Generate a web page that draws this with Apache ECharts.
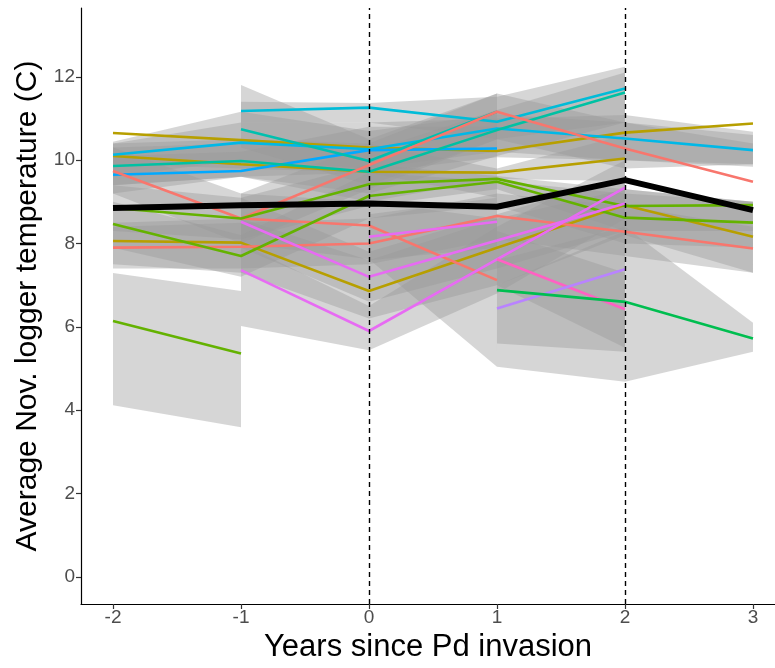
<!DOCTYPE html>
<html><head><meta charset="utf-8">
<script src="https://cdn.jsdelivr.net/npm/echarts@6/dist/echarts.min.js"></script>
<style>html,body{margin:0;padding:0;background:#fff}#c{width:775px;height:668px}</style>
</head><body><div id="c"></div>
<script>
// ---- data ----
const years = [-2, -1, 0, 1, 2, 3];
const xTicks = [-2, -1, 0, 1, 2, 3];
const yTicks = [0, 2, 4, 6, 8, 10, 12];
const dashedYears = [0, 2];

const olive1   = [10.65, 10.48, 10.3, 10.22, 10.66, 10.88];
const olive1Lo = [9.9, 9.8, 9.7, 10.07, 10.0, 9.9];
const olive1Hi = [10.4, 10.9, 10.9, 11.0, 11.08, 10.68];

const olive2   = [10.1, 9.9, 9.72, 9.7, 10.04, null];
const olive2Lo = [9.4, 9.6, 9.0, 9.55, 9.5, null];
const olive2Hi = [10.4, 10.5, 10.4, 9.8, 10.6, null];

const olive3   = [8.06, 8.02, 6.86, 7.9, 8.92, 8.16];
const olive3Lo = [7.5, 7.3, 6.2, 7.0, 8.2, 7.3];
const olive3Hi = [8.5, 8.6, 7.6, 8.6, 9.3, 9.0];

const cyan1   = [null, 11.18, 11.26, 10.92, 11.72, null];
const cyan1Lo = [null, 10.9, 10.9, 10.5, 10.9, null];
const cyan1Hi = [null, 11.4, 11.37, 11.52, 12.24, null];

const lightBlue   = [10.13, 10.42, 10.26, 10.76, 10.52, 10.24];
const lightBlueLo = [9.6, 10.0, 9.8, 10.2, 10.0, 9.84];
const lightBlueHi = [10.44, 11.16, 10.7, 11.1, 10.9, 10.6];

const blue   = [9.65, 9.74, 10.24, 10.28, null, null];
const blueLo = [9.2, 9.6, 9.7, 9.1, null, null];
const blueHi = [10.1, 10.2, 10.8, 10.8, null, null];

const tealA   = [null, 10.74, 9.98, 11.16, null, null];
const tealALo = [null, 10.3, 9.4, 10.5, null, null];
const tealAHi = [null, 11.8, 10.5, 11.6, null, null];

const tealB   = [9.86, 9.98, 9.72, 10.72, 11.62, null];
const tealBLo = [9.4, 9.6, 9.2, 10.1, 10.9, null];
const tealBHi = [10.3, 10.4, 10.2, 11.2, 12.1, null];

const salmon1   = [9.74, 8.6, 9.88, 11.16, 10.28, 9.48];
const salmon1Lo = [9.2, 8.0, 9.3, 10.5, 9.8, 9.9];
const salmon1Hi = [10.3, 9.2, 10.4, 11.6, 10.9, 10.4];

const salmon2   = [null, 8.6, 8.43, 7.12, null, null];
const salmon2Lo = [null, 8.0, 7.62, 5.04, null, null];
const salmon2Hi = [null, 9.2, 9.0, 8.6, null, null];

const salmon3   = [7.9, 7.92, 8.0, 8.66, 8.28, 7.88];
const salmon3Lo = [7.4, 7.4, 7.5, 8.1, 7.7, 7.3];
const salmon3Hi = [8.4, 8.5, 8.6, 9.2, 8.9, 8.4];

const green1   = [8.85, 8.6, 9.42, 9.55, 8.9, 8.92];
const green1Lo = [8.3, 8.1, 8.9, 9.3, 8.3, 8.3];
const green1Hi = [9.4, 9.1, 9.9, 9.62, 9.3, 9.0];

const green2   = [8.47, 7.7, 9.14, 9.48, 8.62, 8.5];
const green2Lo = [7.9, 7.2, 8.6, 8.9, 8.0, 7.9];
const green2Hi = [9.0, 8.2, 9.7, 9.5, 9.2, 9.0];

const greenLow   = [6.14, 5.36, null, null, null, null];
const greenLowLo = [4.12, 3.59, null, null, null, null];
const greenLowHi = [7.29, 6.86, null, null, null, null];

const magenta1   = [null, 8.52, 7.2, 8.07, 8.96, null];
const magenta1Lo = [null, 7.9, 6.6, 7.4, 8.3, null];
const magenta1Hi = [null, 9.1, 7.8, 8.7, 9.6, null];

const magenta2   = [null, null, 8.16, 8.52, null, null];
const magenta2Lo = [null, null, 7.6, 7.9, null, null];
const magenta2Hi = [null, null, 8.7, 9.1, null, null];

const magenta3   = [null, 7.36, 5.9, 7.62, 9.34, null];
const magenta3Lo = [null, 6.02, 5.44, 6.8, 8.6, null];
const magenta3Hi = [null, 8.0, 6.5, 8.4, 10.0, null];

const pink   = [null, null, null, 7.62, 6.42, null];
const pinkLo = [null, null, null, 7.0, 5.5, null];
const pinkHi = [null, null, null, 8.3, 7.3, null];

const purple   = [null, null, null, 6.44, 7.38, null];
const purpleLo = [null, null, null, 5.6, 5.4, null];
const purpleHi = [null, null, null, 7.0, 8.3, null];

const green3   = [null, null, null, 6.88, 6.6, 5.72];
const green3Lo = [null, null, null, 5.04, 4.68, 5.4];
const green3Hi = [null, null, null, 7.6, 8.4, 6.1];

const meanTemp = [8.85, 8.92, 8.96, 8.88, 9.52, 8.8];

// ---- build ----
const sites = [
  [olive1, olive1Lo, olive1Hi, '#B79F00'],
  [olive2, olive2Lo, olive2Hi, '#B79F00'],
  [olive3, olive3Lo, olive3Hi, '#B79F00'],
  [cyan1, cyan1Lo, cyan1Hi, '#00BCD8'],
  [lightBlue, lightBlueLo, lightBlueHi, '#00B8E7'],
  [blue, blueLo, blueHi, '#00A9FF'],
  [tealA, tealALo, tealAHi, '#00C0AF'],
  [tealB, tealBLo, tealBHi, '#00C1A3'],
  [salmon1, salmon1Lo, salmon1Hi, '#F8766D'],
  [salmon2, salmon2Lo, salmon2Hi, '#F8766D'],
  [salmon3, salmon3Lo, salmon3Hi, '#F8766D'],
  [green1, green1Lo, green1Hi, '#64B200'],
  [green2, green2Lo, green2Hi, '#64B200'],
  [greenLow, greenLowLo, greenLowHi, '#64B200'],
  [magenta1, magenta1Lo, magenta1Hi, '#E76BF3'],
  [magenta2, magenta2Lo, magenta2Hi, '#E76BF3'],
  [magenta3, magenta3Lo, magenta3Hi, '#E76BF3'],
  [pink, pinkLo, pinkHi, '#FF61C3'],
  [purple, purpleLo, purpleHi, '#B983FF'],
  [green3, green3Lo, green3Hi, '#00BE50']
];

function pts(vals) {
  const out = [];
  years.forEach((x, i) => { if (vals[i] != null) out.push([x, vals[i]]); });
  return out;
}

function ribbon(lo, hi) {
  const p = [];
  years.forEach((x, i) => { if (lo[i] != null) p.push([x, lo[i], hi[i]]); });
  return {
    type: 'custom', data: p, z: 1, silent: true, animation: false,
    encode: { x: 0, y: [1, 2] },
    renderItem: function (params, api) {
      if (params.dataIndex !== 0) return;
      const top = p.map(d => api.coord([d[0], d[2]]));
      const bot = p.map(d => api.coord([d[0], d[1]])).reverse();
      return { type: 'polygon', shape: { points: top.concat(bot) },
               style: { fill: 'rgba(153,153,153,0.4)' } };
    }
  };
}

const series = [];
sites.forEach(s => series.push(ribbon(s[1], s[2])));
series.push({
  type: 'line', data: [], silent: true, z: 2,
  markLine: {
    symbol: ['none', 'none'], silent: true, label: { show: false }, animation: false,
    lineStyle: { color: '#000', type: [5, 4], width: 1.4 },
    data: dashedYears.map(v => ({ xAxis: v }))
  }
});
sites.forEach(s => series.push({
  type: 'line', data: pts(s[0]), showSymbol: false, z: 3, silent: true,
  lineStyle: { color: s[3], width: 2.6 }, itemStyle: { color: s[3] }
}));
series.push({
  type: 'line', data: pts(meanTemp), showSymbol: false, z: 4, silent: true,
  lineStyle: { color: '#000', width: 6 }, itemStyle: { color: '#000' }
});

const font = 'Liberation Sans, Arial, sans-serif';
const chart = echarts.init(document.getElementById('c'), null, { renderer: 'canvas' });
chart.setOption({
  animation: false,
  backgroundColor: '#fff',
  grid: { left: 81, right: 0, top: 8, bottom: 64 },
  xAxis: {
    type: 'value', min: -2.25, max: 3.172,
    name: 'Years since Pd invasion', nameLocation: 'middle', nameGap: 26,
    nameTextStyle: { fontSize: 31, color: '#000', fontFamily: font },
    axisLine: { show: true, onZero: false, lineStyle: { color: '#000', width: 1.2 } },
    axisTick: { show: true, length: 5, customValues: xTicks, lineStyle: { color: '#333', width: 1.2 } },
    axisLabel: { customValues: xTicks, fontSize: 19, color: '#4D4D4D', margin: 4, fontFamily: font },
    splitLine: { show: false }
  },
  yAxis: {
    type: 'value', min: -0.65, max: 13.65,
    name: 'Average Nov. logger temperature (C)', nameLocation: 'middle', nameGap: 36,
    nameTextStyle: { fontSize: 30, color: '#000', fontFamily: font },
    axisLine: { show: true, onZero: false, lineStyle: { color: '#000', width: 1.2 } },
    axisTick: { show: true, length: 5, customValues: yTicks, lineStyle: { color: '#333', width: 1.2 } },
    axisLabel: { customValues: yTicks, fontSize: 19, color: '#4D4D4D', margin: 6, fontFamily: font },
    splitLine: { show: false }
  },
  series: series
});
</script></body></html>
